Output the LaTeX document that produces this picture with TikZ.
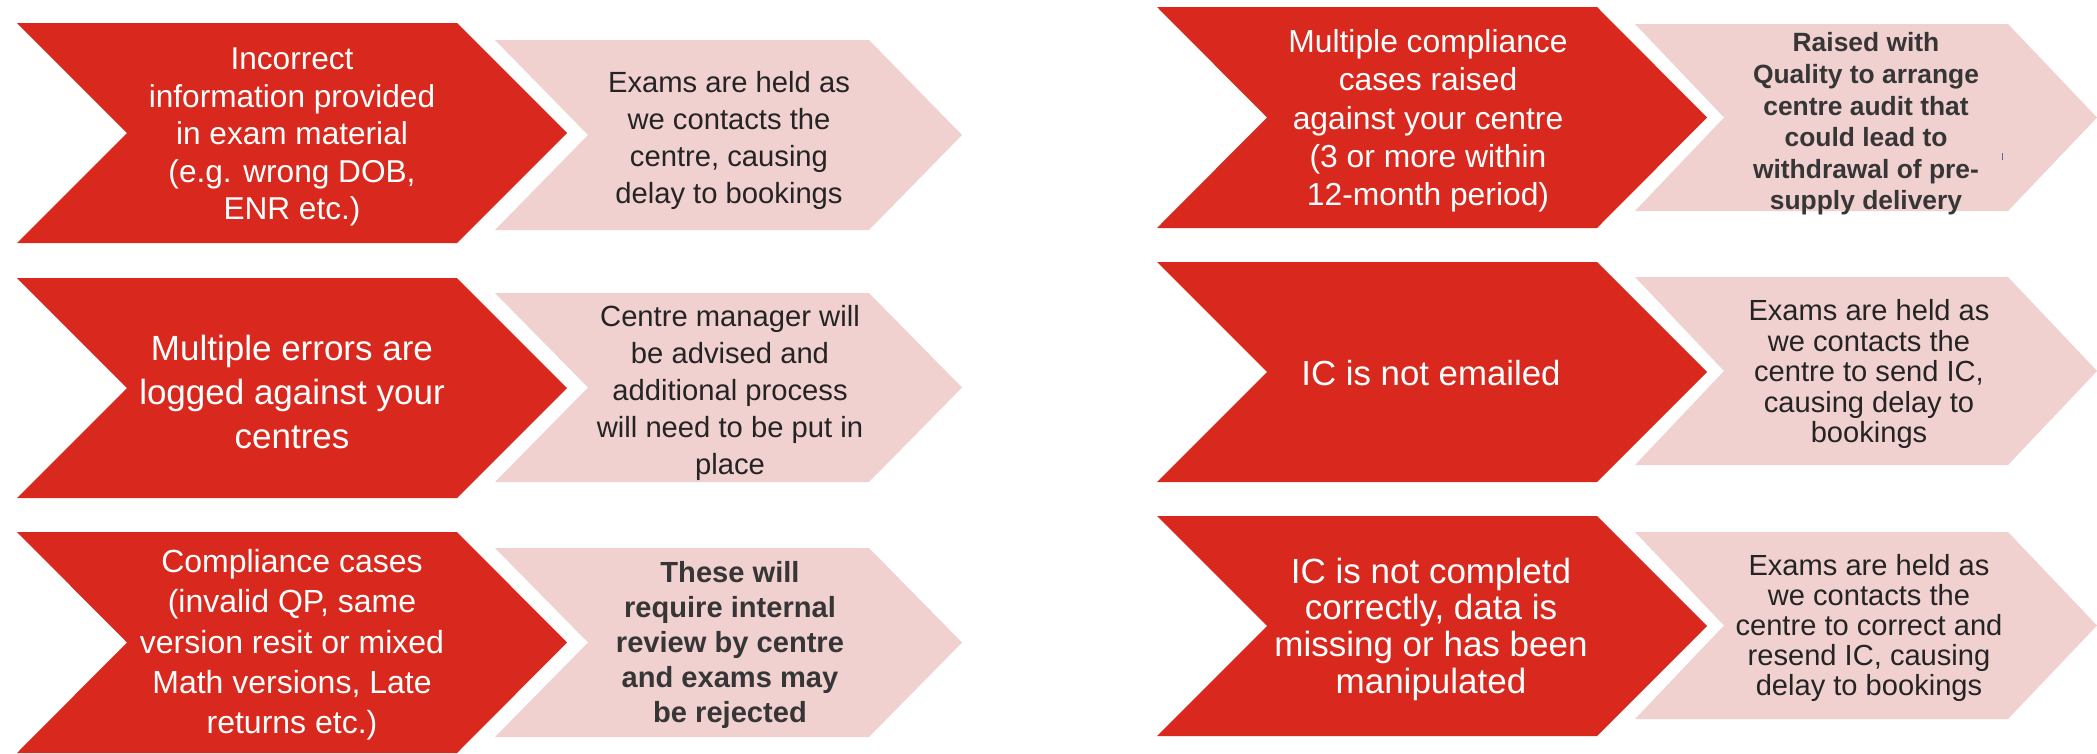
\documentclass[tikz,border=0pt]{standalone}
\usepackage{fontspec}
\setmainfont{Liberation Sans}
\definecolor{cred}{RGB}{217,41,30}
\definecolor{cpink}{RGB}{241,208,208}
\definecolor{ctext}{RGB}{36,36,36}
\definecolor{cbold}{RGB}{54,54,54}
\definecolor{cspeck}{RGB}{90,110,140}
% color, x, ytop, width, depth, height
\newcommand{\chevshape}[6]{%
  \fill[#1] (#2,#3) -- ++({#4-#5},0) -- ++(#5,{#6/2}) -- ++({-#5},{#6/2})
    -- ++({#5-#4},0) -- ++(#5,{-#6/2}) -- cycle;}
\tikzset{
  fs/.style 2 args={font=\fontsize{#1}{#2}\selectfont},
  fsb/.style 2 args={font=\fontsize{#1}{#2}\selectfont\bfseries},
  redtxt/.style={text=white, align=center, inner sep=0pt},
  pinktxt/.style={text=ctext, align=center, inner sep=0pt},
  boldtxt/.style={text=cbold, align=center, inner sep=0pt},
}
\begin{document}
\begin{tikzpicture}[x=1pt,y=-1pt]
\useasboundingbox[fill=white] (0,0) rectangle (2097,753);
% ---- left column
\chevshape{cpink}{495}{40}{467}{93}{190}
\chevshape{cpink}{495}{293}{467}{93}{189}
\chevshape{cpink}{495}{548}{467}{93}{189}
\chevshape{cred}{17}{23}{550}{110}{220}
\chevshape{cred}{17}{278}{550}{110}{220}
\chevshape{cred}{17}{532}{550}{110}{221}
% ---- right column
\chevshape{cpink}{1635}{24}{462}{89}{187}
\chevshape{cpink}{1635}{277}{462}{89}{188}
\chevshape{cpink}{1635}{532}{462}{89}{187}
\chevshape{cred}{1157}{7}{550}{110}{221}
\chevshape{cred}{1157}{262}{550}{110}{220}
\chevshape{cred}{1157}{516}{550}{110}{220}
\fill[cspeck] (2001.5,153) rectangle (2003,160);
% ---- texts, left
\node[redtxt, fs={31.6}{37.5}] (l1a) at (292,137) {Incorrect\\information provided\\in exam material\\(e.g. wrong DOB,\\ENR etc.)};
\node[pinktxt, fs={29.2}{37}] (l1b) at (729,140) {Exams are held as\\we contacts the\\centre, causing\\delay to bookings};
\node[redtxt, fs={35}{44}] (l2a) at (292,392) {Multiple errors are\\logged against your\\centres};
\node[pinktxt, fs={29.2}{37}] (l2b) at (730,393) {Centre manager will\\be advised and\\additional process\\will need to be put in\\place};
\node[redtxt, fs={32}{40.3}] (l3a) at (292,645) {Compliance cases\\(invalid QP, same\\version resit or mixed\\Math versions, Late\\returns etc.)};
\node[boldtxt, fsb={29.1}{35}] (l3b) at (730,645) {These will\\require internal\\review by centre\\and exams may\\be rejected};
% ---- texts, right
\node[redtxt, fs={31.8}{38.3}] (r1a) at (1428,121) {Multiple compliance\\cases raised\\against your centre\\(3 or more within\\12-month period)};
\node[boldtxt, fsb={26.4}{31.6}] (r1b) at (1866,124) {Raised with\\Quality to arrange\\centre audit that\\could lead to\\withdrawal of pre-\\supply delivery};
\node[redtxt, fs={34.8}{40}] (r2a) at (1431,373) {IC is not emailed};
\node[pinktxt, fs={29.1}{30.5}] (r2b) at (1869,374) {Exams are held as\\we contacts the\\centre to send IC,\\causing delay to\\bookings};
\node[redtxt, fs={35}{36.7}] (r3a) at (1431,629) {IC is not completd\\correctly, data is\\missing or has been\\manipulated};
\node[pinktxt, fs={29.1}{30}] (r3b) at (1869,628) {Exams are held as\\we contacts the\\centre to correct and\\resend IC, causing\\delay to bookings};
\end{tikzpicture}
\end{document}
